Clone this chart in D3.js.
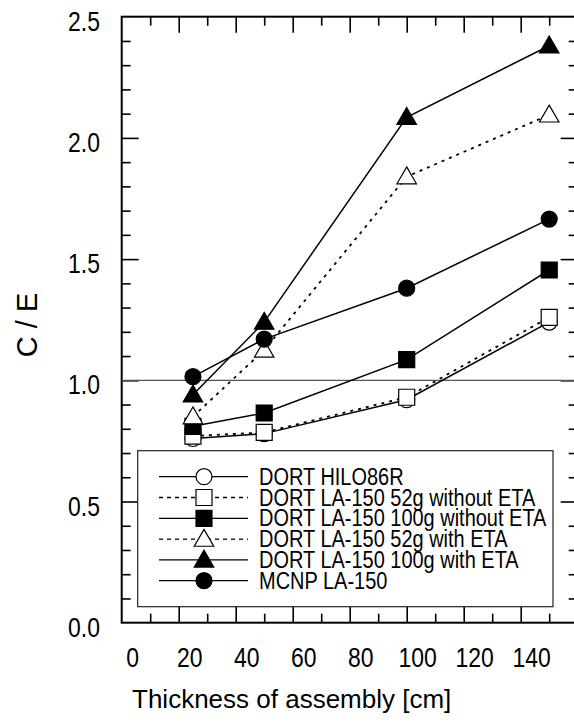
<!DOCTYPE html>
<html>
<head>
<meta charset="utf-8">
<script src="https://cdn.jsdelivr.net/npm/d3@7"></script>
<style>
  body { margin: 0; background: #fff; }
  svg { display: block; }
  text { font-family: "Liberation Sans", Arial, sans-serif; fill: #000; }
</style>
</head>
<body>
<div id="grafico"></div>
<script>
// dados
const espessura = [25, 50, 100, 150]; // cm
const serieNomes = [
  'DORT HILO86R',
  'DORT LA-150 52g without ETA',
  'DORT LA-150 100g without ETA',
  'DORT LA-150 52g with ETA',
  'DORT LA-150 100g with ETA',
  'MCNP LA-150'
];
const hilo86r   = [0.76, 0.78, 0.92, 1.24];
const la52sem   = [0.77, 0.785, 0.93, 1.26];
const la100sem  = [0.81, 0.865, 1.085, 1.455];
const la52com   = [0.85, 1.125, 1.84, 2.095];
const la100com  = [0.94, 1.24, 2.085, 2.38];
const mcnp      = [1.015, 1.17, 1.38, 1.665];
const xTicks = [0, 20, 40, 60, 80, 100, 120, 140];
const yTicks = [0.0, 0.5, 1.0, 1.5, 2.0, 2.5];

const largura = 574, altura = 727;
const esq = 121.7, topo = 16.7, dir = 577.7, baixo = 622.7;

const svg = d3.select('#grafico').append('svg')
  .attr('width', largura).attr('height', altura);

const x = d3.scaleLinear().domain([0, 160]).range([esq, dir]);
const y = d3.scaleLinear().domain([0, 2.5]).range([baixo, topo]);

// ticks para dentro (maior e menor)
const xMaior = d3.range(20, 160, 20), xMenor = d3.range(10, 160, 20);
const yMaior = [0.5, 1.0, 1.5, 2.0], yMenor = d3.range(1, 25).map(d => d / 10).filter(d => Math.abs(d * 2 - Math.round(d * 2)) > 1e-6);

function tiques(eixo, valores, tam) {
  return eixo.tickValues(valores).tickSize(tam).tickSizeOuter(0).tickFormat('');
}
const grupos = [
  [d3.axisBottom(x), xMaior, -16, `translate(0,${baixo})`],
  [d3.axisBottom(x), xMenor, -9, `translate(0,${baixo})`],
  [d3.axisTop(x), xMaior, -16, `translate(0,${topo})`],
  [d3.axisTop(x), xMenor, -9, `translate(0,${topo})`],
  [d3.axisLeft(y), yMaior, -17, `translate(${esq},0)`],
  [d3.axisLeft(y), yMenor, -9, `translate(${esq},0)`],
  [d3.axisRight(y), yMaior, -17, `translate(${dir},0)`],
  [d3.axisRight(y), yMenor, -9, `translate(${dir},0)`]
];
grupos.forEach(([eixo, vals, tam, tr]) => {
  const g = svg.append('g').attr('transform', tr).call(tiques(eixo, vals, tam));
  g.select('.domain').remove();
  g.selectAll('line').attr('stroke', '#000').attr('stroke-width', 1.6);
});

// moldura
svg.append('rect')
  .attr('x', esq).attr('y', topo)
  .attr('width', dir - esq).attr('height', baixo - topo)
  .attr('fill', 'none').attr('stroke', '#000').attr('stroke-width', 2);

// rotulos (fonte estreita simulada com scaleX)
const estreito = 0.82;
svg.append('g').selectAll('g').data(xTicks).join('g')
  .attr('transform', d => `translate(${x(d) + 11},666.7) scale(${estreito},1)`)
  .append('text').attr('text-anchor', 'middle').attr('font-size', 28).text(d => d);

svg.append('g').selectAll('g').data(yTicks).join('g')
  .attr('transform', d => `translate(100,${y(d) + 14}) scale(${estreito},1)`)
  .append('text').attr('text-anchor', 'end').attr('font-size', 28).text(d => d3.format('.1f')(d));

svg.append('text')
  .attr('x', 291.7).attr('y', 708.3)
  .attr('text-anchor', 'middle').attr('font-size', 26)
  .text('Thickness of assembly [cm]');

svg.append('text')
  .attr('transform', 'translate(36.5,325) rotate(-90)')
  .attr('text-anchor', 'middle').attr('font-size', 29)
  .text('C / E');

// linha C/E = 1
svg.append('line')
  .attr('x1', esq).attr('x2', dir).attr('y1', y(1)).attr('y2', y(1))
  .attr('stroke', '#555').attr('stroke-width', 1.2);

// series
const series = [
  { nome: serieNomes[0], v: hilo86r,  forma: 'circle',   cheio: false, tracejado: false },
  { nome: serieNomes[1], v: la52sem,  forma: 'square',   cheio: false, tracejado: true },
  { nome: serieNomes[2], v: la100sem, forma: 'square',   cheio: true,  tracejado: false },
  { nome: serieNomes[3], v: la52com,  forma: 'triangle', cheio: false, tracejado: true },
  { nome: serieNomes[4], v: la100com, forma: 'triangle', cheio: true,  tracejado: false },
  { nome: serieNomes[5], v: mcnp,     forma: 'circle',   cheio: true,  tracejado: false }
];
const simbolos = { circle: d3.symbolCircle, square: d3.symbolSquare, triangle: d3.symbolTriangle };
const tamanhos = { circle: Math.PI * 8 * 8, square: 16 * 16, triangle: 165 };

function marcador(g, s) {
  g.append('path')
    .attr('d', d3.symbol().type(simbolos[s.forma]).size(tamanhos[s.forma])())
    .attr('transform', s.forma === 'triangle' ? 'translate(0,1.5)' : null)
    .attr('fill', s.cheio ? '#000' : '#fff')
    .attr('stroke', '#000').attr('stroke-width', 1.2);
}

const linha = d3.line().x((d, i) => x(espessura[i])).y(d => y(d));
series.forEach(s => {
  svg.append('path').datum(s.v)
    .attr('d', linha)
    .attr('fill', 'none').attr('stroke', '#000')
    .attr('stroke-width', s.tracejado ? 1.8 : 1.5)
    .attr('stroke-dasharray', s.tracejado ? '3,5' : null);
});
series.forEach(s => {
  s.v.forEach((d, i) => {
    const g = svg.append('g').attr('transform', `translate(${x(espessura[i])},${y(d)})`);
    marcador(g, s);
  });
});

// legenda
svg.append('rect')
  .attr('x', 137.7).attr('y', 450.7).attr('width', 415.3).attr('height', 156)
  .attr('fill', '#fff').attr('stroke', '#222').attr('stroke-width', 1.2);

series.forEach((s, i) => {
  const cy = 476.7 + i * 20.8;
  const g = svg.append('g');
  g.append('line')
    .attr('x1', 159).attr('x2', 248).attr('y1', cy).attr('y2', cy)
    .attr('stroke', '#000').attr('stroke-width', 1.3)
    .attr('stroke-dasharray', s.tracejado ? '4,4' : null);
  marcador(g.append('g').attr('transform', `translate(204,${cy})`), s);
  g.append('g').attr('transform', `translate(259,${cy + 8}) scale(0.85,1)`)
    .append('text').attr('font-size', 23.5).text(s.nome);
});
</script>
</body>
</html>
